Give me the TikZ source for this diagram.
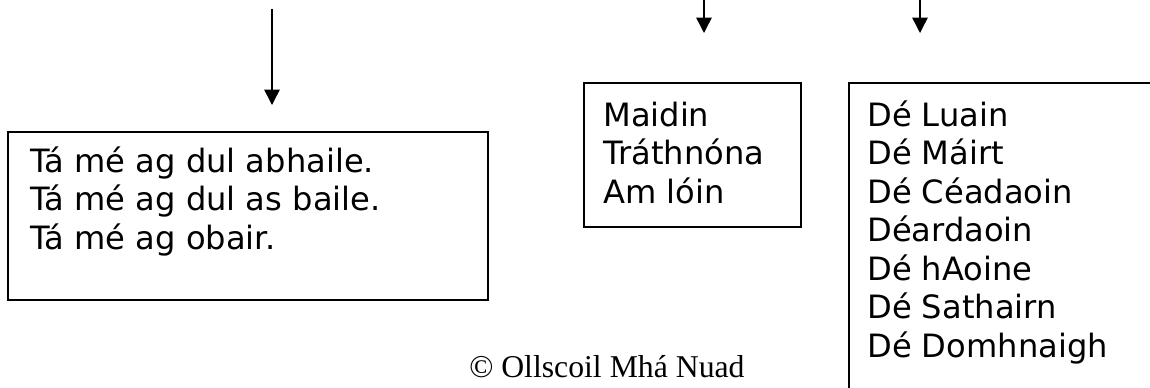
\documentclass[tikz,border=0pt]{standalone}
\usepackage{fontspec}
\setmainfont{DejaVu Sans}
\newfontfamily\copyfont{Liberation Serif}
\usetikzlibrary{arrows.meta}
\begin{document}
\begin{tikzpicture}[x=0.75pt,y=-0.75pt,
  boxstyle/.style={draw=black, line width=1.5pt, inner sep=0pt, anchor=north west},
  txt/.style={anchor=base west, inner sep=0pt, font=\fontsize{24.1}{28}\selectfont},
  arr/.style={line width=1.1pt, -{Triangle[length=11.5pt,width=11.5pt]}}]
\useasboundingbox (0,0) rectangle (1150,387);
\fill[white] (0,0) rectangle (1150,387);
% boxes
\node[boxstyle, minimum width=360pt, minimum height=126pt] (box1) at (7,131) {};
\node[boxstyle, minimum width=162.75pt, minimum height=108pt] (box2) at (583,82) {};
\node[boxstyle, minimum width=241.5pt, minimum height=238.5pt] (box3) at (848,82) {};
% arrows
\coordinate (a1s) at (272,9);
\coordinate (a1e) at (272,105);
\coordinate (a2s) at (704,-2);
\coordinate (a2e) at (704,33);
\coordinate (a3s) at (920,-2);
\coordinate (a3e) at (920,33);
\draw[arr] (a1s) -- (a1e);
\draw[arr] (a2s) -- (a2e);
\draw[arr] (a3s) -- (a3e);
% box 1 text
\node[txt] (t11) at (30,172) {Tá mé ag dul abhaile.};
\node[txt] (t12) at (30,210.5) {Tá mé ag dul as baile.};
\node[txt] (t13) at (30,249) {Tá mé ag obair.};
% box 2 text
\node[txt] (t21) at (603,126) {Maidin};
\node[txt] (t22) at (603,164.5) {Tráthnóna};
\node[txt] (t23) at (603,203) {Am lóin};
% box 3 text
\node[txt] (t31) at (867,126) {Dé Luain};
\node[txt] (t32) at (867,164.5) {Dé Máirt};
\node[txt] (t33) at (867,203) {Dé Céadaoin};
\node[txt] (t34) at (867,241.5) {Déardaoin};
\node[txt] (t35) at (867,280) {Dé hAoine};
\node[txt] (t36) at (867,318.5) {Dé Sathairn};
\node[txt] (t37) at (867,357) {Dé Domhnaigh};
% copyright
\node[anchor=base west, inner sep=0pt, font=\copyfont\fontsize{23.8}{28}\selectfont] (copy) at (469,377) {© Ollscoil Mhá Nuad};
\end{tikzpicture}
\end{document}
